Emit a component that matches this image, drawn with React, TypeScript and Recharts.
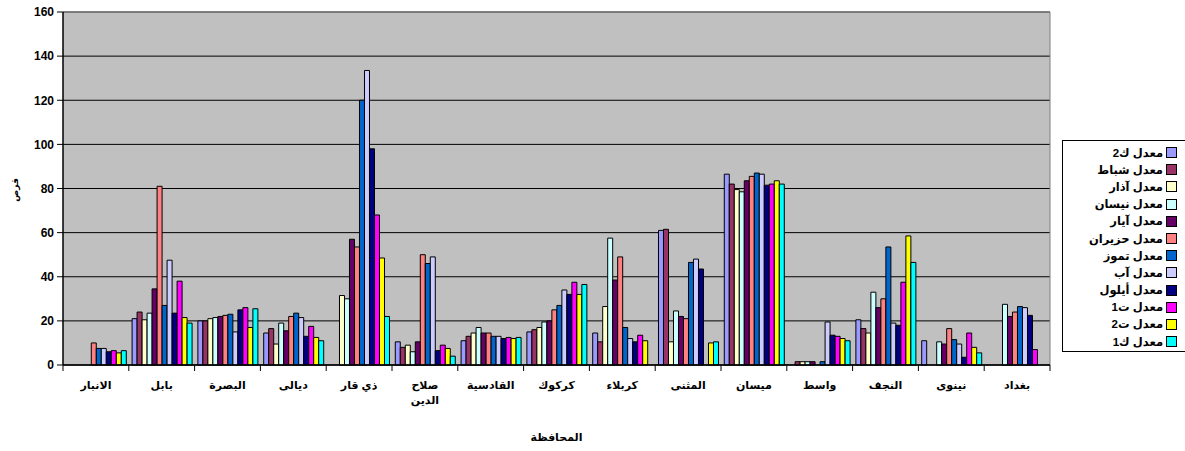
import React from 'react';
import { BarChart, Bar, XAxis, YAxis, CartesianGrid, Legend, ReferenceLine } from 'recharts';

const CATEGORIES = ['الانبار', 'بابل', 'البصرة', 'ديالى', 'ذي قار', 'صلاح الدين', 'القادسية', 'كركوك', 'كربلاء', 'المثنى', 'ميسان', 'واسط', 'النجف', 'نينوى', 'بغداد'];

const SERIES_NAMES = ['معدل ك2', 'معدل شباط', 'معدل آذار', 'معدل نيسان', 'معدل آيار', 'معدل حزيران', 'معدل تموز ', 'معدل آب', 'معدل أيلول', 'معدل ت1', 'معدل ت2', 'معدل ك1'];
const COLORS = ['#9999FF', '#993366', '#FFFFCC', '#CCFFFF', '#660066', '#FF8080', '#0066CC', '#CCCCFF', '#000080', '#FF00FF', '#FFFF00', '#00FFFF'];

// values per month, one per governorate (null = no bar)
const JAN = [null, 21, 20, 14.5, null, 10.5, 11, 15, 14.5, 61, 86.5, null, 20.5, 11, null];
const FEB = [null, 24, 20, 16.5, null, 8, 13, 16, 10.5, 61.5, 82, 1.5, 16.5, null, null];
const MAR = [null, 20.5, 21, 9.5, 31.5, 9, 14.5, 17, 26.5, 10.5, 79.5, 1.5, 14.5, null, null];
const APR = [null, 23.5, 21.5, 19, 30, 6, 17, 19.5, 57.5, 24.5, 78.5, 1.5, 33, 10.5, 27.5];
const MAY = [null, 34.5, 22, 15.5, 57, 10.5, 14.5, 20, 38.5, 22, 83.5, 1.5, 26, 9.5, 22];
const JUN = [10, 81, 22.5, 22, 53.5, 50, 14.5, 25, 49, 21, 85.5, null, 30, 16.5, 24];
const JUL = [7.5, 27, 23, 23.5, 120, 46, 13, 27, 17, 46.5, 87, 1.5, 53.5, 11.5, 26.5];
const AUG = [7.5, 47.5, 15, 21.5, 133.5, 49, 13, 34, 12, 48, 86.5, 19.5, 19, 9.5, 26];
const SEP = [6, 23.5, 25, 13, 98, 6.5, 12, 32, 10.5, 43.5, 81.5, 13.5, 18, 3.5, 22.5];
const OCT = [6.5, 38, 26, 17.5, 68, 9, 12.5, 37.5, 13.5, null, 82, 13, 37.5, 14.5, 7];
const NOV = [5.5, 21.5, 17, 12.5, 48.5, 7.5, 12, 32, 11, 10, 83.5, 12, 58.5, 8, null];
const DEC = [6.5, 19, 25.5, 11, 22, 4, 12.5, 36.5, null, 10.5, 82, 11, 46.5, 5.5, null];

const MONTHS = [JAN, FEB, MAR, APR, MAY, JUN, JUL, AUG, SEP, OCT, NOV, DEC];
const Y_TICKS = [0, 20, 40, 60, 80, 100, 120, 140, 160];

const data = CATEGORIES.map((name, i) => {
  const row: Record<string, any> = { name };
  MONTHS.forEach((m, k) => { row['m' + k] = m[i]; });
  return row;
});

const W = 1185;
const H = 451;
const PLOT_LEFT = 63;
const PLOT_RIGHT = 1050;
const LEGEND_W = 130;
const AXIS_Y = 365;
const BAND = (PLOT_RIGHT - PLOT_LEFT) / CATEGORIES.length;
const FONT = '"Liberation Sans", Arial, "DejaVu Sans", sans-serif';

const CategoryTick = (props: any) => {
  const { x, payload, index } = props;
  const label: string = payload.value;
  const lines = label.length > 8 && label.includes(' ') ? label.split(' ') : [label];
  return (
    <g>
      <line x1={x - BAND / 2} x2={x - BAND / 2} y1={AXIS_Y} y2={AXIS_Y + 6} stroke="#000" />
      {index === CATEGORIES.length - 1 && (
        <line x1={x + BAND / 2} x2={x + BAND / 2} y1={AXIS_Y} y2={AXIS_Y + 6} stroke="#000" />
      )}
      <text x={x} y={AXIS_Y + 24} textAnchor="middle" fontSize={11} fontWeight="bold" fill="#000" fontFamily={FONT}>
        {lines.map((l, i) => (
          <tspan key={i} x={x} dy={i ? 15 : 0}>{l}</tspan>
        ))}
      </text>
    </g>
  );
};

const renderLegend = (props: any) => {
  const payload = [...(props.payload || [])].sort(
    (a: any, b: any) => SERIES_NAMES.indexOf(a.value) - SERIES_NAMES.indexOf(b.value)
  );
  return (
    <div style={{ border: '1px solid #000', background: '#fff', width: LEGEND_W, height: 212, paddingTop: 3, boxSizing: 'border-box' }}>
      {payload.map((p: any, i: number) => (
        <div key={i} style={{ height: 17.2, display: 'flex', alignItems: 'center', justifyContent: 'flex-end', paddingRight: 14, whiteSpace: 'nowrap' }}>
          <span style={{ fontSize: 11.5, fontWeight: 'bold', fontFamily: FONT, color: '#000', marginRight: 3 }}>{p.value}</span>
          <span style={{ width: 9, height: 9, background: p.color, border: '1px solid #000', display: 'inline-block' }} />
        </div>
      ))}
    </div>
  );
};

const yLabel = () => (
  <text x={18} y={190} transform="rotate(-90 18 190)" textAnchor="middle" fontSize={9} fontWeight="bold" fill="#000" fontFamily={FONT}>
    قرص
  </text>
);

export default function App() {
  return (
    <div style={{ position: 'absolute', left: 0, top: 0, width: W, height: H, background: '#fff', overflow: 'hidden', fontFamily: FONT }}>
      <BarChart
        width={W}
        height={H}
        data={data}
        margin={{ top: 12, right: W - PLOT_RIGHT - LEGEND_W, bottom: 36, left: 8 }}
        barCategoryGap="5%"
        barGap={0}
      >
        <CartesianGrid vertical={false} stroke="#000" strokeWidth={1} fill="#C0C0C0" fillOpacity={1} />
        <CartesianGrid horizontal={false} verticalPoints={[PLOT_RIGHT]} stroke="#808080" strokeWidth={1} />
        <ReferenceLine y={160} stroke="#808080" strokeWidth={1.5} />
        <XAxis
          dataKey="name"
          interval={0}
          height={50}
          tickLine={false}
          axisLine={{ stroke: '#000', strokeWidth: 1.5 }}
          tick={<CategoryTick />}
          label={{ value: 'المحافظة', position: 'insideBottom', offset: -26, fontSize: 11, fontWeight: 'bold', fill: '#000', fontFamily: FONT }}
        />
        <YAxis
          domain={[0, 160]}
          ticks={Y_TICKS}
          interval={0}
          width={55}
          tickSize={6}
          tickMargin={3}
          tickLine={{ stroke: '#000' }}
          axisLine={{ stroke: '#000', strokeWidth: 1.5 }}
          tick={{ fontSize: 12, fontWeight: 'bold', fill: '#000', fontFamily: FONT }}
          label={yLabel}
        />
        <Legend
          layout="vertical"
          align="right"
          verticalAlign="top"
          content={renderLegend}
          wrapperStyle={{ position: 'absolute', left: 1062, top: 140, width: LEGEND_W }}
        />
        {SERIES_NAMES.map((s, k) => (
          <Bar key={k} dataKey={'m' + k} name={s} fill={COLORS[k]} stroke="#000" strokeWidth={1} isAnimationActive={false} />
        ))}
      </BarChart>
    </div>
  );
}
